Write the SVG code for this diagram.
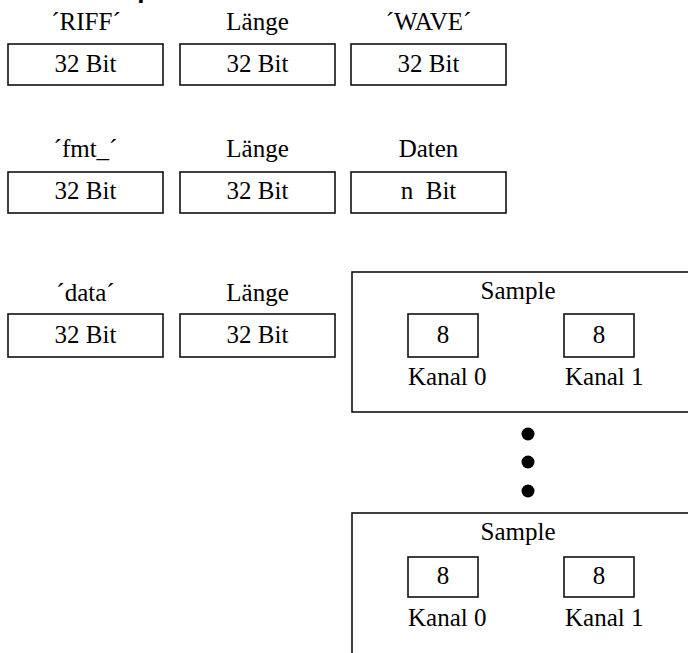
<svg xmlns="http://www.w3.org/2000/svg" width="688" height="653" viewBox="0 0 688 653">
  <style>
    .box { fill: #fff; stroke: #111; stroke-width: 1.6; }
    .t { font-family: "Liberation Serif", "Times New Roman", serif; font-size: 25px; fill: #000; text-anchor: middle; }
    .ts { font-family: "Liberation Serif", "Times New Roman", serif; font-size: 25px; fill: #000; }
    .dot { fill: #000; }
  </style>
  <rect width="688" height="653" fill="#fff"/>

  <!-- heading above the page edge; only its descender reaches into view -->
  <text x="137.2" y="-2" font-family="Liberation Sans, Arial, sans-serif" font-weight="bold" font-size="26">p</text>

  <!-- RIFF header -->
  <g id="riff">
    <text class="t" x="86" y="30">´RIFF´</text>
    <rect class="box" x="8" y="44" width="155" height="41"/>
    <text class="t" x="85.5" y="72">32 Bit</text>
  </g>
  <g id="riff-length">
    <text class="t" x="257.5" y="30">Länge</text>
    <rect class="box" x="180" y="44" width="155" height="41"/>
    <text class="t" x="257.5" y="72">32 Bit</text>
  </g>
  <g id="wave">
    <text class="t" x="428.5" y="30">´WAVE´</text>
    <rect class="box" x="351" y="44" width="155" height="41"/>
    <text class="t" x="428.5" y="72">32 Bit</text>
  </g>

  <!-- fmt chunk -->
  <g id="fmt">
    <text class="t" x="85.5" y="157">´fmt_´</text>
    <rect class="box" x="8" y="172" width="155" height="41"/>
    <text class="t" x="85.5" y="199">32 Bit</text>
  </g>
  <g id="fmt-length">
    <text class="t" x="257.5" y="157">Länge</text>
    <rect class="box" x="180" y="172" width="155" height="41"/>
    <text class="t" x="257.5" y="199">32 Bit</text>
  </g>
  <g id="fmt-data">
    <text class="t" x="428.5" y="157">Daten</text>
    <rect class="box" x="351" y="172" width="155" height="41"/>
    <text class="t" x="428.5" y="199" xml:space="preserve">n  Bit</text>
  </g>

  <!-- data chunk -->
  <g id="data">
    <text class="t" x="85.5" y="301">´data´</text>
    <rect class="box" x="8" y="314" width="155" height="43"/>
    <text class="t" x="85.5" y="343">32 Bit</text>
  </g>
  <g id="data-length">
    <text class="t" x="257.5" y="301">Länge</text>
    <rect class="box" x="180" y="314" width="155" height="43"/>
    <text class="t" x="257.5" y="343">32 Bit</text>
  </g>

  <!-- first sample frame -->
  <g id="sample-1">
    <rect class="box" x="352" y="272" width="400" height="140"/>
    <text class="t" x="518" y="299">Sample</text>
    <rect class="box" x="408" y="314" width="70" height="43"/>
    <text class="t" x="443" y="343">8</text>
    <rect class="box" x="564" y="314" width="70" height="43"/>
    <text class="t" x="599" y="343">8</text>
    <text class="ts" x="408" y="385">Kanal 0</text>
    <text class="ts" x="565" y="385">Kanal 1</text>
  </g>

  <!-- ellipsis between samples -->
  <g id="ellipsis">
    <circle class="dot" cx="528" cy="434" r="6.5"/>
    <circle class="dot" cx="528" cy="462" r="6.5"/>
    <circle class="dot" cx="528" cy="491" r="6.5"/>
  </g>

  <!-- last sample frame -->
  <g id="sample-n">
    <rect class="box" x="352" y="513" width="400" height="200"/>
    <text class="t" x="518" y="540">Sample</text>
    <rect class="box" x="408" y="557" width="70" height="40"/>
    <text class="t" x="443" y="584">8</text>
    <rect class="box" x="564" y="557" width="70" height="40"/>
    <text class="t" x="599" y="584">8</text>
    <text class="ts" x="408" y="626">Kanal 0</text>
    <text class="ts" x="565" y="626">Kanal 1</text>
  </g>
</svg>
